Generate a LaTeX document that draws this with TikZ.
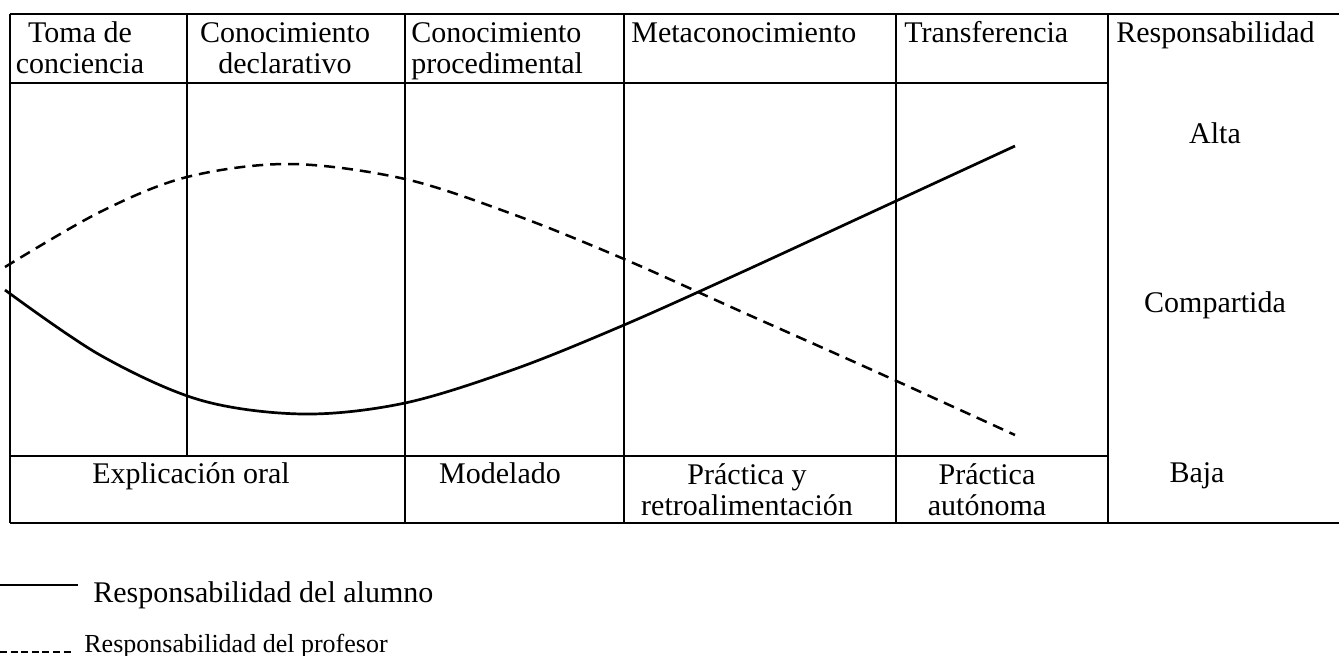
\documentclass[tikz,border=0pt]{standalone}
\usepackage{fontspec}
\setmainfont{Liberation Serif}
\tikzset{
    tableline/.style={line width=0.85pt},
    outerline/.style={line width=1.2pt},
    alumno/.style={line width=1.35pt},
    profesor/.style={line width=1.25pt, dash pattern=on 5.5pt off 3.5pt},
    alumnoleg/.style={line width=1.35pt},
    profesorleg/.style={line width=1.3pt, dash pattern=on 3.5pt off 1.8pt},
    celltext/.style={inner sep=0pt, align=center, font=\fontsize{15}{15.5}\selectfont},
    legtext/.style={inner sep=0pt, anchor=base west, font=\fontsize{15}{15.5}\selectfont}
}
\begin{document}
\begin{tikzpicture}[x=0.5pt, y=-0.5pt]
    \useasboundingbox (0,0) rectangle (1339,655);

    % tabla
    \draw[outerline] (10,14) -- (1339,14);
    \draw[outerline] (10,523) -- (1339,523);
    \draw[tableline] (10,14) -- (10,523);
    \draw[tableline] (10,83) -- (1108,83);
    \draw[tableline] (10,456) -- (1108,456);
    \draw[tableline] (187,14) -- (187,456);
    \foreach \x in {405,624,896,1108}
        \draw[tableline] (\x,14) -- (\x,523);

    % cabecera (base = ultima linea)
    \node[celltext, anchor=base] (Toma) at (80,73) {Toma de\\conciencia};
    \node[celltext, anchor=base] (Declarativo) at (285,73) {Conocimiento\\declarativo};
    \node[celltext, anchor=base west, align=left] (Procedimental) at (411,73) {Conocimiento\\procedimental};
    \node[celltext, anchor=base west] (Meta) at (631,42) {Metaconocimiento};
    \node[celltext, anchor=base west] (Transf) at (904,42) {Transferencia};
    \node[celltext, anchor=base west] (Resp) at (1116,42) {Responsabilidad};

    % niveles
    \node[celltext, anchor=base] (Alta) at (1215,143) {Alta};
    \node[celltext, anchor=base] (Compartida) at (1215,312) {Compartida};
    \node[celltext, anchor=base] (Baja) at (1197,482) {Baja};

    % fila inferior
    \node[celltext, anchor=base] (Explicacion) at (191,483) {Explicación oral};
    \node[celltext, anchor=base] (Modelado) at (500,483) {Modelado};
    \node[celltext, anchor=base] (Practica) at (747,515) {Práctica y\\retroalimentación};
    \node[celltext, anchor=base] (Autonoma) at (987,515) {Práctica\\autónoma};

    % curvas
    \draw[alumno] plot[smooth, tension=0.55] coordinates {(5,290) (100,355) (200,400) (303,414)
        (405,403) (515,369) (624,325) (740,273) (870,213) (1015,146)};
    \draw[profesor] plot[smooth, tension=0.55] coordinates {(5,267) (100,212) (187,177) (290,164)
        (405,179) (515,215) (624,259) (740,311) (870,369) (1015,435)};

    % leyenda
    \coordinate (alumnoA) at (0,585);
    \coordinate (alumnoB) at (78,585);
    \draw[alumnoleg] (alumnoA) -- (alumnoB);
    \node[legtext] (Alumno) at (93,602) {Responsabilidad del alumno};
    \coordinate (profesorA) at (0,652);
    \coordinate (profesorB) at (72,652);
    \draw[profesorleg] (profesorA) -- (profesorB);
    \node[legtext, font=\fontsize{13}{13}\selectfont] (Profesor) at (84,652) {Responsabilidad del profesor};
\end{tikzpicture}
\end{document}
